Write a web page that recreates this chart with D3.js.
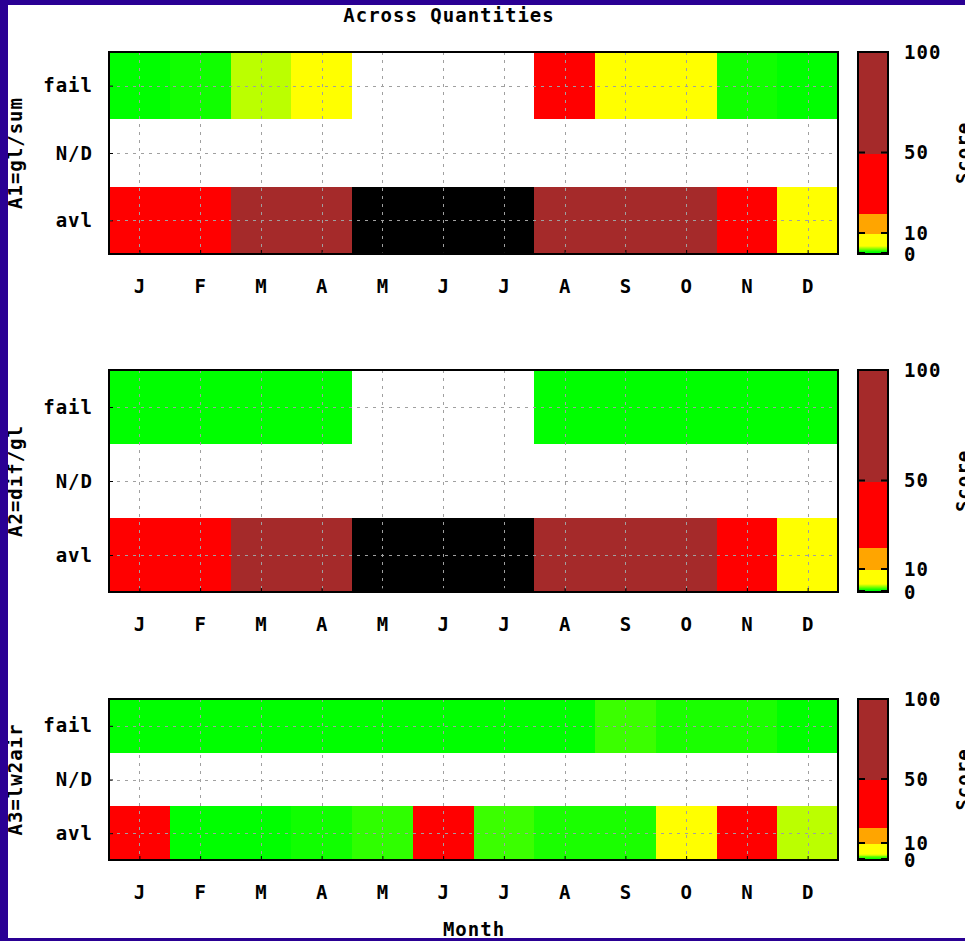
<!DOCTYPE html>
<html>
<head>
<meta charset="utf-8">
<script src="https://cdn.jsdelivr.net/npm/d3@7"></script>
<style>
  body { margin: 0; background: #fff; }
  text { font-family: "DejaVu Sans Mono", monospace; font-weight: bold; fill: #000; letter-spacing: 1px; }
</style>
</head>
<body>
<svg id="chart" width="965" height="941"></svg>
<script>
// months along x, quality rows along y (bottom -> top)
const months = ['J', 'F', 'M', 'A', 'M', 'J', 'J', 'A', 'S', 'O', 'N', 'D']
const rowNames = ['avl', 'N/D', 'fail']
const panelNames = ['A1=gl/sum', 'A2=dif/gl', 'A3=lw2air']
const scoreTicks = [0, 10, 50, 100]

// score per month, null = no data (drawn black)
const a1Fail = [1, 1.19, 3.2, 7, 0, 0, 0, 30, 7, 7, 1.19, 1]
const a1Nd   = [0, 0, 0, 0, 0, 0, 0, 0, 0, 0, 0, 0]
const a1Avl  = [30, 30, 75, 75, null, null, null, 75, 75, 75, 30, 7]

const a2Fail = [1, 1, 1, 1, 0, 0, 0, 1, 1, 1, 1, 1]
const a2Nd   = [0, 0, 0, 0, 0, 0, 0, 0, 0, 0, 0, 0]
const a2Avl  = [30, 30, 75, 75, null, null, null, 75, 75, 75, 30, 7]

const a3Fail = [1, 1, 1, 1, 1, 1, 1, 1, 1.7, 1.3, 1.3, 1]
const a3Nd   = [0, 0, 0, 0, 0, 0, 0, 0, 0, 0, 0, 0]
const a3Avl  = [30, 1, 1, 1.19, 1.55, 30, 1.7, 1.3, 1.3, 7, 30, 3.2]

const panelData = [
    [a1Avl, a1Nd, a1Fail],
    [a2Avl, a2Nd, a2Fail],
    [a3Avl, a3Nd, a3Fail]
]

// palette: white at 0, green->yellow low, then orange / red / brown bands
const lowScale = d3.scaleLinear().domain([1, 4]).range(['#00ff00', '#ffff00']).clamp(true)
const bandScale = d3.scaleThreshold().domain([10, 20, 50]).range(['#ffff00', '#ffa500', '#ff0000', '#a52a2a'])
function scoreColor(v) {
    if (v === null) return '#000000'
    if (v < 0.5) return '#ffffff'
    if (v <= 5) return lowScale(v)
    return bandScale(v)
}

const svg = d3.select('#chart')
const fontSize = '19px'

// panel frames (top, bottom) in px
const panelY = [[52, 254], [370, 592], [699, 860]]
const plotLeft = 109, plotRight = 838
const barLeft = 858, barRight = 888

svg.append('rect').attr('width', 965).attr('height', 941).attr('fill', '#fff')

svg.append('text')
    .attr('x', 449).attr('y', 22)
    .attr('text-anchor', 'middle')
    .attr('font-size', fontSize)
    .text('Across Quantities')

const x = d3.scaleLinear().domain([0.5, 12.5]).range([plotLeft, plotRight])

panelData.forEach((rows, p) => {
    const [top, bottom] = panelY[p]
    const y = d3.scaleLinear().domain([-0.5, 2.5]).range([bottom, top])
    const g = svg.append('g')

    // cells
    rows.forEach((vals, r) => {
        g.selectAll(null)
            .data(vals)
            .enter().append('rect')
            .attr('shape-rendering', 'crispEdges')
            .attr('x', (d, i) => Math.round(x(i + 0.5)))
            .attr('width', (d, i) => Math.round(x(i + 1.5)) - Math.round(x(i + 0.5)))
            .attr('y', Math.round(y(r + 0.5)))
            .attr('height', Math.round(y(r - 0.5)) - Math.round(y(r + 0.5)))
            .attr('fill', d => scoreColor(d))
    })

    // dashed grid
    g.selectAll(null)
        .data(d3.range(1, 13))
        .enter().append('line')
        .attr('x1', d => Math.round(x(d)) + 0.5).attr('x2', d => Math.round(x(d)) + 0.5)
        .attr('y1', top).attr('y2', bottom)
        .attr('stroke', '#a0a0a0').attr('stroke-dasharray', '3,5')
    g.selectAll(null)
        .data([0, 1, 2])
        .enter().append('line')
        .attr('x1', plotLeft).attr('x2', plotRight)
        .attr('y1', d => Math.round(y(d)) + 0.5).attr('y2', d => Math.round(y(d)) + 0.5)
        .attr('stroke', '#a0a0a0').attr('stroke-dasharray', '3,5')

    // axes
    const xAxis = g.append('g')
        .attr('transform', 'translate(0,' + bottom + ')')
        .call(d3.axisBottom(x).tickValues(d3.range(1, 13)).tickFormat(d => months[d - 1])
            .tickSizeInner(-4).tickSizeOuter(0).tickPadding(26))
    const yAxis = g.append('g')
        .attr('transform', 'translate(' + plotLeft + ',0)')
        .call(d3.axisLeft(y).tickValues([0, 1, 2]).tickFormat(d => rowNames[d])
            .tickSizeInner(-4).tickSizeOuter(0).tickPadding(16))
    ;[xAxis, yAxis].forEach(a => {
        a.select('.domain').remove()
        a.selectAll('line').attr('stroke', '#000')
        a.selectAll('text').attr('font-size', fontSize).attr('font-family', null)
    })

    g.append('rect')
        .attr('x', plotLeft).attr('y', top)
        .attr('width', plotRight - plotLeft).attr('height', bottom - top)
        .attr('fill', 'none').attr('stroke', '#000').attr('stroke-width', 2)

    g.append('text')
        .attr('transform', 'translate(22,' + (top + bottom) / 2 + ') rotate(-90)')
        .attr('text-anchor', 'middle')
        .attr('font-size', fontSize)
        .text(panelNames[p])

    // colour box
    const cy = d3.scaleLinear().domain([0, 100]).range([bottom - 1, top])
    const steps = d3.range(0, 100, 0.5)
    g.selectAll(null)
        .data(steps)
        .enter().append('rect')
        .attr('shape-rendering', 'crispEdges')
        .attr('x', barLeft).attr('width', barRight - barLeft)
        .attr('y', d => Math.floor(cy(d + 0.5)))
        .attr('height', d => Math.ceil(cy(d)) - Math.floor(cy(d + 0.5)) + 1)
        .attr('fill', d => scoreColor(d + 0.25))
    g.append('rect')
        .attr('x', barLeft).attr('y', top)
        .attr('width', barRight - barLeft).attr('height', bottom - top)
        .attr('fill', 'none').attr('stroke', '#000').attr('stroke-width', 2)
    g.selectAll(null)
        .data(scoreTicks.slice(0, 3))
        .enter().append('path')
        .attr('d', d => 'M' + barLeft + ',' + cy(d) + 'h7M' + barRight + ',' + cy(d) + 'h-7')
        .attr('stroke', '#000').attr('stroke-width', 2)
    g.selectAll(null)
        .data(scoreTicks)
        .enter().append('text')
        .attr('x', 904)
        .attr('y', d => cy(d) + (d === 0 ? 1 : 0))
        .attr('dy', '0.35em')
        .attr('font-size', fontSize)
        .text(d => d)
    g.append('text')
        .attr('transform', 'translate(970,' + (top + bottom) / 2 + ') rotate(-90)')
        .attr('text-anchor', 'middle')
        .attr('font-size', fontSize)
        .text('Score')
})

svg.append('text')
    .attr('x', 474).attr('y', 936)
    .attr('text-anchor', 'middle')
    .attr('font-size', fontSize)
    .text('Month')

// blue frame
svg.append('path')
    .attr('d', 'M0,0H965V5H8V938H965V941H0Z')
    .attr('fill', '#2a0094')
</script>
</body>
</html>
